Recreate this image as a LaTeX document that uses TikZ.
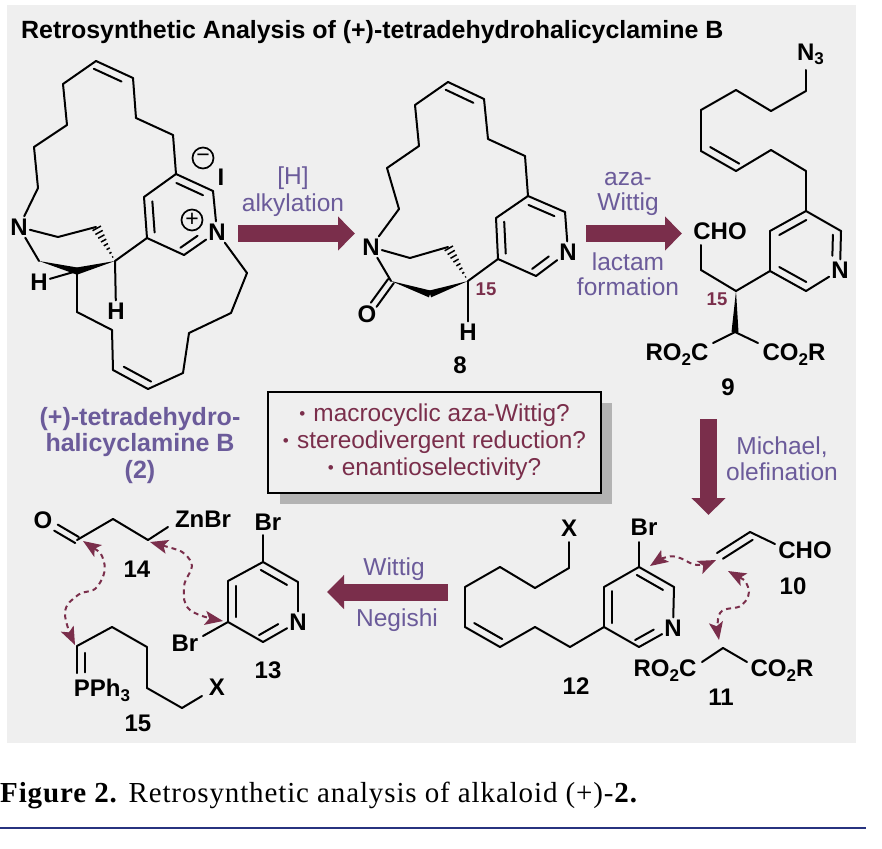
\documentclass[tikz,border=0pt]{standalone}
\usepackage{fontspec}
\setmainfont{Liberation Sans}
\newfontfamily\capfont[LetterSpace=3.0]{Liberation Serif}
\usetikzlibrary{calc,arrows.meta}

\definecolor{panelgray}{HTML}{EFEFEF}
\definecolor{shadowgray}{HTML}{B3B3B3}
\definecolor{maroon}{HTML}{7A2E4B}
\definecolor{violet}{HTML}{6B5B9A}
\definecolor{navy}{HTML}{27337F}

%% second line of a double bond: [offset]{from}{to}{side}{start}{end}
\newcommand\dblbond[6][8pt]{\draw[bond] ($(#2)!#5!(#3)!#1!#4:(#3)$) -- ($(#2)!#6!(#3)!#1!#4:(#3)$);}
\newcommand\wedgebond[2]{\fill ($(#1)$) -- ($(#2)!3.5pt!90:(#1)$) -- ($(#2)!3.5pt!-90:(#1)$) -- cycle;}
\newcommand\hashbond[2]{\foreach \f in {0.12,0.24,0.36,0.48,0.60,0.72,0.84,0.96}
  {\draw[line width=1.5pt] ($(#1)!\f!(#2)!\f*5pt!90:(#2)$) -- ($(#1)!\f!(#2)!\f*5pt!-90:(#2)$);}}
\newcommand\subnum[1]{\raisebox{-4.5pt}{\fontsize{17}{17}\selectfont #1}}

\begin{document}
\begin{tikzpicture}[x=1pt,y=-1pt,
    bond/.style={line width=2pt,line cap=round,line join=round},
    atom/.style={font=\fontsize{24}{24}\selectfont\bfseries,text height=17pt,text depth=0pt,inner sep=2pt},
    num/.style={atom,inner sep=0pt},
    smallnum/.style={font=\fontsize{18.5}{18.5}\selectfont\bfseries,text=maroon,inner sep=0pt},
    lab/.style={font=\fontsize{24.5}{24.5}\selectfont,text=violet,text height=17pt,text depth=0pt,inner sep=0pt},
    namelab/.style={font=\fontsize{25}{25}\selectfont\bfseries,text=violet,text height=17pt,text depth=0pt,inner sep=0pt},
    chargecirc/.style={draw,circle,line width=1.7pt,inner sep=0pt,minimum size=21pt,font=\fontsize{23}{23}\selectfont},
    bigarrow/.style={draw=maroon,line width=17pt,-{Triangle[length=17pt,width=33pt]}},
    curly/.style={draw=maroon,line width=2pt,dash pattern=on 5pt off 4pt,
      {Stealth[length=18pt,width=14pt,inset=4pt,fill=maroon]}-{Stealth[length=18pt,width=14pt,inset=4pt,fill=maroon]}}]
  \useasboundingbox (0,0) rectangle (882,848);
  \fill[panelgray] (7,5) rectangle (856,743);

  %% Title and caption
  \node[font=\fontsize{24.95}{24.95}\selectfont\bfseries,anchor=base west,inner sep=0pt] (TITLE) at (21,39)
    {Retrosynthetic Analysis of (+)-tetradehydrohalicyclamine B};
  \node[font=\capfont\fontsize{29}{29}\selectfont,anchor=base west,inner sep=0pt] (CAPTION) at (0,802)
    {\textbf{Figure 2.} Retrosynthetic analysis of alkaloid (+)-\textbf{2.}};
  \draw[navy,line width=1.5pt] (0,828) -- (866,828);

  %% Question box
  \fill[shadowgray] (280,403) rectangle (612,504);
  \node[draw,fill=panelgray,line width=2.2pt,minimum width=333pt,minimum height=101pt,inner sep=0pt,
    align=center,text=maroon,font=\fontsize{24.4}{27}\selectfont] (QUESTIONS) at (434.5,442.5)
    {\raisebox{2pt}{\scalebox{.7}{•}}\,\,macrocyclic aza-Wittig?\\
     \raisebox{2pt}{\scalebox{.7}{•}}\,\,stereodivergent reduction?\\
     \raisebox{2pt}{\scalebox{.7}{•}}\,\,enantioselectivity?};

  %% Compound 2
  \foreach \n/\px/\py in {a1/96/61,a2/133/78,a3/136/118,a4/173/135,a5/176/174,a6/213/191,a7/184/255,
    a8/147/238,a9/144/197,a10/63/84,a11/67/125,a12/34/147,a13/38/188,a14/58/237,a15/96/227,a16/115/261,
    a17/39/261,a18/77/271,a19/77/312,a20/112/330,a21/113/370,a22/148/389,a23/183/373,a24/189/333,
    a25/231/313,a26/247/273}
  {
    \coordinate (\n) at (\px,\py);
  }
  \node[atom] (NA) at (19,227) {N};
  \node[atom] (NB) at (217,232) {N};
  \node[atom] (HA) at (39,282) {H};
  \node[atom] (HB) at (116,311) {H};
  \node[atom] (IA) at (221,177) {I};
  \node[chargecirc] (MINUS) at (203,158) {−};
  \node[chargecirc] (PLUS) at (192,220) {+};
  \foreach \a/\b in {a1/a2,a2/a3,a3/a4,a4/a5,a5/a6,a6/NB,a7/NB,a7/a8,a8/a9,a9/a5,a1/a10,a10/a11,a11/a12,
    a12/a13,a13/NA,NA/a14,a14/a15,NA/a17,a18/a19,a19/a20,a20/a21,a21/a22,a22/a23,a23/a24,a24/a25,
    a25/a26,a26/NB,a16/a8,a16/HB,a18/HA}
  {
    \draw[bond] (\a) -- (\b);
  }
  \dblbond{a1}{a2}{-90}{0.03}{0.78}
  \dblbond{a9}{a8}{90}{0.12}{0.88}
  \dblbond{a5}{a6}{-90}{0.1}{0.82}
  \dblbond{a7}{NB}{90}{0.03}{0.55}
  \dblbond{a21}{a22}{90}{0.2}{0.98}
  \wedgebond{a17}{a18}
  \wedgebond{a16}{a18}
  \hashbond{a16}{a15}
  \node[namelab] (NAME1) at (140,417) {(+)-tetradehydro-};
  \node[namelab] (NAME2) at (140,443) {halicyclamine B};
  \node[namelab] (NAME3) at (140,470) {(2)};

  %% Compound 8
  \foreach \n/\px/\py in {b1/448/82,b2/484/99,b3/488/139,b4/525/156,b5/528/196,b6/565/212,b7/536/276,
    b8/498/259,b9/496/218,b10/415/105,b11/419/146,b12/387/168,b13/399/209,b14/410/258,b15/448/247,
    b16/468/281,b17/391/281,b18/430/294}
  {
    \coordinate (\n) at (\px,\py);
  }
  \node[atom] (NC) at (371,247) {N};
  \node[atom] (ND) at (568,252) {N};
  \node[atom] (OA) at (367,314) {O};
  \node[atom] (HC) at (468,332) {H};
  \foreach \a/\b in {b1/b2,b2/b3,b3/b4,b4/b5,b5/b6,b6/ND,ND/b7,b7/b8,b8/b9,b9/b5,b1/b10,b10/b11,b11/b12,
    b12/b13,b13/NC,NC/b14,b14/b15,NC/b17,b16/HC,b16/b8}
  {
    \draw[bond] (\a) -- (\b);
  }
  \dblbond{b1}{b2}{-90}{0.03}{0.8}
  \dblbond{b9}{b8}{90}{0.1}{0.88}
  \dblbond{b5}{b6}{-90}{0.1}{0.8}
  \dblbond{b7}{ND}{90}{0.03}{0.55}
  \dblbond[3.5pt]{b17}{OA}{90}{0}{0.72}
  \dblbond[3.5pt]{b17}{OA}{-90}{0}{0.72}
  \wedgebond{b17}{b18}
  \wedgebond{b16}{b18}
  \hashbond{b16}{b15}
  \node[smallnum] (C15A) at (486,289) {15};
  \node[num] (LAB8) at (460,365) {8};

  %% Compound 9
  \foreach \n/\px/\py in {c0/806/70,c1/806/91,c2/771/111,c3/736/90,c4/701/110,c5/701/151,c6/736/171,
    c7/771/150,c8/806/171,c9/806/211,c10/841/231,c11/806/291,c12/770/271,c13/770/231,c14/736/291,
    c15/701/270,c16/701/245,c17/735/332,c18/713/343,c19/758/343}
  {
    \coordinate (\n) at (\px,\py);
  }
  \node[atom] (NE) at (810.5,52) {N\subnum{3}};
  \node[atom] (NF) at (840,270) {N};
  \node[atom] (CHOA) at (720,231) {CHO};
  \node[atom] (ESTERA) at (677,352) {RO\subnum{2}C};
  \node[atom] (ESTERB) at (794,352) {CO\subnum{2}R};
  \foreach \a/\b in {c0/c1,c1/c2,c2/c3,c3/c4,c4/c5,c5/c6,c6/c7,c7/c8,c8/c9,c9/c10,c10/NF,NF/c11,c11/c12,
    c12/c13,c13/c9,c12/c14,c14/c15,c15/c16,c17/c18,c17/c19}
  {
    \draw[bond] (\a) -- (\b);
  }
  \dblbond{c5}{c6}{90}{0.15}{0.98}
  \dblbond{c10}{NF}{-90}{0.1}{0.64}
  \dblbond{c12}{c11}{90}{0.15}{0.9}
  \dblbond{c9}{c13}{90}{0.1}{0.85}
  \wedgebond{c14}{c17}
  \node[smallnum] (C15B) at (717,299) {15};
  \node[num] (LAB9) at (728,387) {9};

  %% Compounds 10 and 11
  \foreach \n/\px/\py in {d1/717/553,d2/750/532,d3/775/544,d4/723/648,d5/702/662,d6/747/662}
  {
    \coordinate (\n) at (\px,\py);
  }
  \node[atom] (CHOB) at (805,550) {CHO};
  \node[atom] (ESTERC) at (665,668) {RO\subnum{2}C};
  \node[atom] (ESTERD) at (782,668) {CO\subnum{2}R};
  \foreach \a/\b in {d1/d2,d2/d3,d4/d5,d4/d6}
  {
    \draw[bond] (\a) -- (\b);
  }
  \dblbond{d1}{d2}{-90}{0.05}{0.95}
  \node[num] (LAB10) at (793,586) {10};
  \node[num] (LAB11) at (721,697) {11};

  %% Compound 12
  \foreach \n/\px/\py in {e0/569/542,e1/569/568,e2/535/588,e3/500/567,e4/465/587,e5/465/627,e6/500/647,
    e7/535/627,e8/570/647,e9/604/627,e10/604/587,e11/639/567,e12/674/587,e13/639/647,e14/639/542}
  {
    \coordinate (\n) at (\px,\py);
  }
  \node[atom] (XA) at (569,528) {X};
  \node[atom] (NG) at (673,628) {N};
  \node[atom] (BRA) at (644,527) {Br};
  \foreach \a/\b in {e0/e1,e1/e2,e2/e3,e3/e4,e4/e5,e5/e6,e6/e7,e7/e8,e8/e9,e9/e10,e10/e11,e11/e12,e12/NG,
    NG/e13,e13/e9,e11/e14}
  {
    \draw[bond] (\a) -- (\b);
  }
  \dblbond{e5}{e6}{90}{0.15}{0.95}
  \dblbond{e10}{e9}{90}{0.1}{0.9}
  \dblbond{e11}{e12}{-90}{0.05}{0.8}
  \dblbond{e13}{NG}{90}{0}{0.55}
  \node[num] (LAB12) at (576,686) {12};

  %% Compound 13
  \foreach \n/\px/\py in {f0/263/535,f1/263/562,f2/298/582,f3/263/642,f4/228/622,f5/228/581,f6/203/636}
  {
    \coordinate (\n) at (\px,\py);
  }
  \node[atom] (BRB) at (268,522) {Br};
  \node[atom] (BRC) at (185,643) {Br};
  \node[atom] (NH) at (298,622) {N};
  \foreach \a/\b in {f0/f1,f1/f2,f2/NH,NH/f3,f3/f4,f4/f5,f5/f1,f4/f6}
  {
    \draw[bond] (\a) -- (\b);
  }
  \dblbond{f5}{f4}{90}{0.12}{0.88}
  \dblbond{f1}{f2}{-90}{0.05}{0.8}
  \dblbond{f3}{NH}{90}{0}{0.55}
  \node[num] (LAB13) at (268,670) {13};

  %% Compound 14
  \foreach \n/\px/\py in {g1/77/540,g2/113/519,g3/148/540,g4/168/527}
  {
    \coordinate (\n) at (\px,\py);
  }
  \node[atom] (OB) at (43,520) {O};
  \node[atom] (ZNBR) at (203,519) {ZnBr};
  \foreach \a/\b in {g1/g2,g2/g3,g3/g4}
  {
    \draw[bond] (\a) -- (\b);
  }
  \dblbond[3.5pt]{g1}{OB}{90}{0}{0.62}
  \dblbond[3.5pt]{g1}{OB}{-90}{0}{0.62}
  \node[num] (LAB14) at (137,569) {14};

  %% Compound 15
  \foreach \n/\px/\py in {h0/77/673,h1/77/646,h2/112/627,h3/147/647,h4/147/688,h5/182/708,h6/202/696}
  {
    \coordinate (\n) at (\px,\py);
  }
  \node[atom] (XB) at (217,687) {X};
  \node[atom] (PPH) at (102,688) {PPh\subnum{3}};
  \foreach \a/\b in {h0/h1,h1/h2,h2/h3,h3/h4,h4/h5,h5/h6}
  {
    \draw[bond] (\a) -- (\b);
  }
  \dblbond{h1}{h0}{90}{0.25}{0.98}
  \node[num] (LAB15) at (138,723) {15};

  %% Large reaction arrows
  \foreach \n/\px/\py in {A1s/238/233.5,A1e/355/233.5,A2s/586/233.5,A2e/682/233.5,
    A3s/708.5/419,A3e/708.5/515,A4s/448/592,A4e/327/592}
  {
    \coordinate (\n) at (\px,\py);
  }
  \foreach \s/\e in {A1s/A1e,A2s/A2e,A3s/A3e,A4s/A4e}
  {
    \draw[bigarrow] (\s) -- (\e);
  }
  \node[lab] (HYDRIDE) at (293,176) {[H]};
  \node[lab] (ALKYL) at (293,203) {alkylation};
  \node[lab] (AZA) at (628,177) {aza-};
  \node[lab] (WITTIGA) at (628,202) {Wittig};
  \node[lab] (LACTAM) at (628,262) {lactam};
  \node[lab] (FORM) at (628,287) {formation};
  \node[lab] (MICHAEL) at (782,446) {Michael,};
  \node[lab] (OLEF) at (782,472) {olefination};
  \node[lab] (WITTIGB) at (394,567) {Wittig};
  \node[lab] (NEGISHI) at (397,618) {Negishi};

  %% Dashed disconnection arrows
  \foreach \n/\px/\py in {T1/83/541,T2/75/645,T3/150/542,T4/223/621,T5/650/566,T6/716/560,T7/728/571,T8/719/640}
  {
    \coordinate (\n) at (\px,\py);
  }
  \draw[curly] plot[smooth,tension=0.7] coordinates {(T1) (104,562) (97,587) (78,595) (65,613) (T2)};
  \draw[curly] plot[smooth,tension=0.7] coordinates {(T3) (190,560) (184,587) (190,610) (T4)};
  \draw[curly] plot[smooth,tension=0.7] coordinates {(T5) (667,557) (680,558) (697,565) (T6)};
  \draw[curly] plot[smooth,tension=0.7] coordinates {(T7) (748,587) (742,605) (720,613) (T8)};
\end{tikzpicture}
\end{document}
